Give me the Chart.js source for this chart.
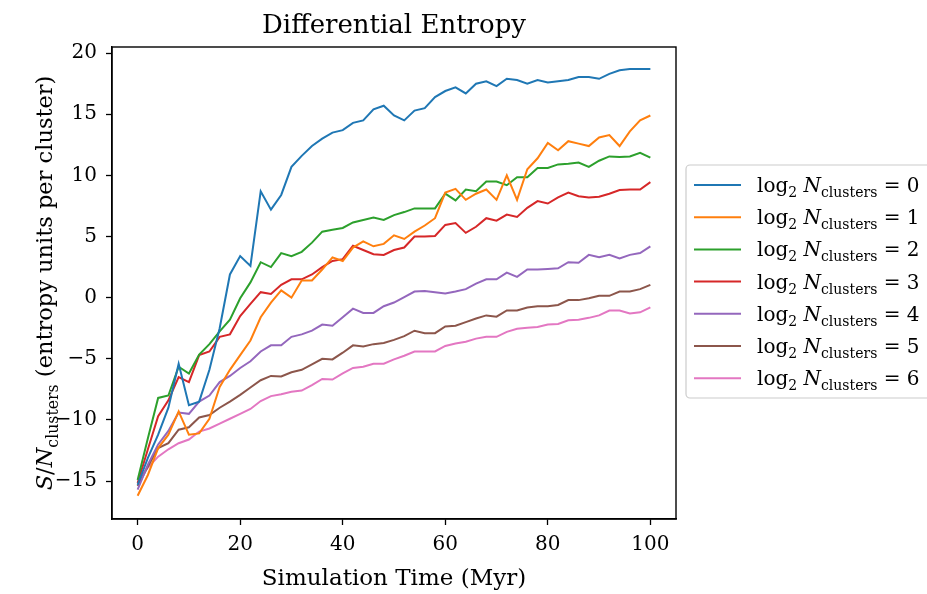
<!DOCTYPE html>
<html>
<head>
<meta charset="utf-8">
<script src="https://cdn.jsdelivr.net/npm/chart.js@4.4.1/dist/chart.umd.min.js"></script>
<style>
  html, body { margin: 0; padding: 0; background: #fff; }
  #wrap { width: 927px; height: 594px; }
</style>
</head>
<body>
<div id="wrap"><canvas id="grafico" width="927" height="594"></canvas></div>
<script>
// datos (tiempo en Myr, entropia por cluster)
var tiempos = [0, 2, 4, 6, 8, 10, 12, 14, 16, 18, 20, 22, 24, 26, 28, 30, 32, 34, 36, 38, 40,
    42, 44, 46, 48, 50, 52, 54, 56, 58, 60, 62, 64, 66, 68, 70, 72, 74, 76, 78, 80,
    82, 84, 86, 88, 90, 92, 94, 96, 98, 100];

var serie0 = [-15.3, -13.1, -11.2, -9.0, -5.4, -8.8, -8.5, -5.9, -2.5, 1.9, 3.4, 2.6, 8.7, 7.2, 8.4, 10.7,
    11.6, 12.4, 13.0, 13.5, 13.7, 14.3, 14.5, 15.4, 15.7, 14.9, 14.5, 15.3, 15.5, 16.4, 16.9, 17.2,
    16.7, 17.5, 17.7, 17.3, 17.9, 17.8, 17.5, 17.8, 17.6, 17.7, 17.8, 18.05, 18.05, 17.9, 18.3, 18.6,
    18.7, 18.7, 18.7];
var serie1 = [-16.2, -14.5, -12.3, -11.2, -9.3, -11.2, -11.1, -9.9, -7.3, -5.9, -4.7, -3.5, -1.6, -0.4, 0.6, 0.0,
    1.4, 1.4, 2.3, 3.3, 3.0, 4.1, 4.6, 4.2, 4.4, 5.1, 4.8, 5.4, 5.9, 6.5, 8.6, 8.9,
    8.0, 8.5, 8.85, 8.0, 10.0, 8.0, 10.5, 11.4, 12.65, 12.05, 12.8, 12.6, 12.4, 13.1, 13.3, 12.4,
    13.6, 14.5, 14.9];
var serie2 = [-14.9, -11.5, -8.2, -8.0, -5.65, -6.2, -4.65, -3.8, -2.75, -1.8, -0.05, 1.25, 2.9, 2.5, 3.65, 3.4,
    3.75, 4.5, 5.4, 5.55, 5.7, 6.15, 6.35, 6.55, 6.35, 6.75, 7.0, 7.3, 7.3, 7.3, 8.5, 7.95,
    8.85, 8.7, 9.5, 9.5, 9.2, 9.85, 9.85, 10.6, 10.6, 10.9, 10.95, 11.05, 10.7, 11.2, 11.55, 11.5,
    11.55, 11.85, 11.45];
var serie3 = [-15.15, -12.4, -9.7, -8.4, -6.5, -6.9, -4.7, -4.4, -3.2, -3.0, -1.5, -0.5, 0.45, 0.3, 1.05, 1.5,
    1.5, 1.9, 2.5, 3.0, 3.15, 4.25, 3.9, 3.55, 3.5, 3.9, 4.1, 5.0, 5.0, 5.05, 5.95, 6.1,
    5.3, 5.8, 6.5, 6.3, 6.8, 6.6, 7.35, 7.9, 7.7, 8.2, 8.6, 8.3, 8.2, 8.25, 8.5, 8.8,
    8.85, 8.85, 9.45];
var serie4 = [-15.7, -13.65, -12.0, -10.9, -9.4, -9.5, -8.5, -8.0, -6.9, -6.4, -5.75, -5.2, -4.4, -3.9, -3.9, -3.2,
    -3.0, -2.7, -2.2, -2.3, -1.6, -0.9, -1.25, -1.25, -0.7, -0.4, 0.05, 0.5, 0.55, 0.45, 0.35, 0.5,
    0.7, 1.15, 1.5, 1.5, 2.05, 1.7, 2.3, 2.3, 2.35, 2.4, 2.9, 2.85, 3.5, 3.3, 3.5, 3.2,
    3.5, 3.65, 4.2];
var serie5 = [-15.4, -13.8, -12.3, -11.9, -10.8, -10.6, -9.8, -9.6, -9.0, -8.5, -7.95, -7.35, -6.75, -6.4, -6.45, -6.1,
    -5.9, -5.45, -5.0, -5.05, -4.5, -3.9, -4.0, -3.8, -3.7, -3.45, -3.15, -2.7, -2.9, -2.9, -2.35, -2.3,
    -2.0, -1.7, -1.45, -1.55, -1.05, -1.05, -0.8, -0.7, -0.7, -0.6, -0.2, -0.2, -0.05, 0.15, 0.15, 0.5,
    0.5, 0.7, 1.05];
var serie6 = [-14.9, -13.9, -13.0, -12.4, -11.9, -11.6, -10.95, -10.7, -10.3, -9.9, -9.5, -9.1, -8.45, -8.05, -7.9, -7.7,
    -7.6, -7.15, -6.65, -6.7, -6.2, -5.75, -5.65, -5.4, -5.4, -5.05, -4.75, -4.4, -4.4, -4.4, -3.95, -3.75,
    -3.6, -3.35, -3.2, -3.2, -2.8, -2.55, -2.45, -2.4, -2.2, -2.15, -1.85, -1.8, -1.65, -1.45, -1.05, -1.05,
    -1.3, -1.2, -0.8];

var series = [serie0, serie1, serie2, serie3, serie4, serie5, serie6];
var nivelesLog = ["0", "1", "2", "3", "4", "5", "6"];
var colores = ["#1f77b4", "#ff7f0e", "#2ca02c", "#d62728", "#9467bd", "#8c564b", "#e377c2"];
var ticksX = [0, 20, 40, 60, 80, 100];
var ticksY = [-15, -10, -5, 0, 5, 10, 15, 20];

var FUENTE = "'DejaVu Serif', 'Liberation Serif', serif";

// dibuja texto con subindices, partes: {t, it, sub}
function textoMath(ctx, x, y, partes, tam, alinear) {
    function fuentePara(p) {
        var s = p.sub ? tam * 0.7 : tam;
        return (p.it ? "italic " : "") + s + "px " + FUENTE;
    }
    var ancho = 0;
    partes.forEach(function (p) {
        ctx.font = fuentePara(p);
        ancho += ctx.measureText(p.t).width;
    });
    var x0 = x;
    if (alinear === "center") x0 = x - ancho / 2;
    ctx.textBaseline = "alphabetic";
    ctx.textAlign = "left";
    partes.forEach(function (p) {
        ctx.font = fuentePara(p);
        ctx.fillText(p.t, x0, y + (p.sub ? tam * 0.25 : 0));
        x0 += ctx.measureText(p.t).width;
    });
}

var textosPlugin = {
    id: "textos",
    afterDraw: function (chart) {
        var ctx = chart.ctx;
        var area = chart.chartArea;
        ctx.save();

        // marco completo de los ejes
        ctx.strokeStyle = "#000";
        ctx.lineWidth = 1.4;
        ctx.strokeRect(area.left, area.top, area.right - area.left, area.bottom - area.top);

        ctx.fillStyle = "#000";
        var cx = (area.left + area.right) / 2;

        // titulo
        ctx.font = "26px " + FUENTE;
        ctx.textAlign = "center";
        ctx.textBaseline = "alphabetic";
        ctx.fillText("Differential Entropy", cx, 33);

        // titulo eje x
        ctx.font = "23px " + FUENTE;
        ctx.fillText("Simulation Time (Myr)", cx, 585);

        // titulo eje y (rotado)
        ctx.save();
        ctx.translate(52, (area.top + area.bottom) / 2);
        ctx.rotate(-Math.PI / 2);
        textoMath(ctx, 0, 0, [
            { t: "S", it: true },
            { t: "/" },
            { t: "N", it: true },
            { t: "clusters", sub: true },
            { t: " (entropy units per cluster)" }
        ], 22.5, "center");
        ctx.restore();

        // leyenda
        var lx = 686, ly = 165, lw = 260, lh = 233;
        ctx.beginPath();
        ctx.roundRect(lx, ly, lw, lh, 4);
        ctx.fillStyle = "rgba(255,255,255,0.8)";
        ctx.fill();
        ctx.strokeStyle = "#cccccc";
        ctx.lineWidth = 1.2;
        ctx.stroke();

        chart.data.datasets.forEach(function (ds, i) {
            var yy = 185 + i * 32.2;
            ctx.strokeStyle = ds.borderColor;
            ctx.lineWidth = 2;
            ctx.beginPath();
            ctx.moveTo(694, yy);
            ctx.lineTo(741, yy);
            ctx.stroke();
            ctx.fillStyle = "#000";
            textoMath(ctx, 757, yy + 7, [
                { t: "log" },
                { t: "2", sub: true },
                { t: " " },
                { t: "N", it: true },
                { t: "clusters", sub: true },
                { t: " = " + nivelesLog[i] }
            ], 20, "left");
        });

        ctx.restore();
    }
};

var datasets = series.map(function (valores, i) {
    return {
        label: "log2 N_clusters = " + nivelesLog[i],
        data: tiempos.map(function (t, k) { return { x: t, y: valores[k] }; }),
        borderColor: colores[i],
        backgroundColor: colores[i],
        borderWidth: 2,
        pointRadius: 0,
        tension: 0,
        fill: false
    };
});

var ctx = document.getElementById("grafico").getContext("2d");
var myChart = new Chart(ctx, {
    type: "line",
    data: { datasets: datasets },
    options: {
        responsive: false,
        animation: false,
        layout: { padding: { left: 0, top: 47, right: 251, bottom: 0 } },
        plugins: {
            legend: { display: false },
            title: { display: false },
            tooltip: { enabled: false }
        },
        scales: {
            x: {
                type: "linear",
                min: -5,
                max: 105,
                afterFit: function (scale) { scale.height = 75; },
                afterBuildTicks: function (scale) {
                    scale.ticks = ticksX.map(function (v) { return { value: v }; });
                },
                grid: {
                    display: true,
                    drawOnChartArea: false,
                    drawTicks: true,
                    tickLength: 6,
                    tickWidth: 1.3,
                    color: "#000"
                },
                border: { display: true, color: "#000", width: 1.4 },
                ticks: {
                    color: "#000",
                    padding: 8,
                    maxRotation: 0,
                    font: { family: FUENTE, size: 20 }
                }
            },
            y: {
                type: "linear",
                min: -18.1,
                max: 20.5,
                afterFit: function (scale) { scale.width = 112; },
                afterBuildTicks: function (scale) {
                    scale.ticks = ticksY.map(function (v) { return { value: v }; });
                },
                grid: {
                    display: true,
                    drawOnChartArea: false,
                    drawTicks: true,
                    tickLength: 6,
                    tickWidth: 1.3,
                    color: "#000"
                },
                border: { display: true, color: "#000", width: 1.4 },
                ticks: {
                    color: "#000",
                    padding: 9,
                    font: { family: FUENTE, size: 20 },
                    callback: function (value) {
                        return value < 0 ? "\u2212" + Math.abs(value) : String(value);
                    }
                }
            }
        }
    },
    plugins: [textosPlugin]
});
</script>
</body>
</html>
